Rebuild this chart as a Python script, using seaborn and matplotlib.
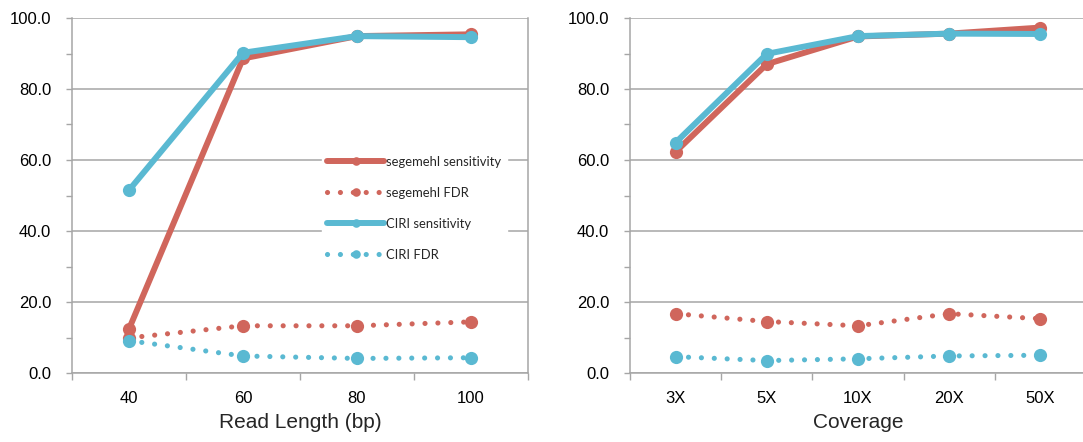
import matplotlib
matplotlib.use("Agg")
import matplotlib.pyplot as plt
from matplotlib.ticker import FormatStrFormatter, FixedLocator
import numpy as np
import seaborn as sns

# ---- data ----
read_lengths = ["40", "60", "80", "100"]
rl_segemehl_sens = [12.4, 88.6, 94.9, 95.4]
rl_segemehl_fdr = [9.9, 13.3, 13.3, 14.4]
rl_ciri_sens = [51.5, 90.2, 94.9, 94.6]
rl_ciri_fdr = [9.1, 4.8, 4.1, 4.3]

coverages = ["3X", "5X", "10X", "20X", "50X"]
cv_segemehl_sens = [62.3, 87.0, 94.8, 95.6, 97.3]
cv_segemehl_fdr = [16.7, 14.5, 13.3, 16.7, 15.3]
cv_ciri_sens = [64.9, 89.9, 94.9, 95.6, 95.5]
cv_ciri_fdr = [4.6, 3.5, 4.0, 4.8, 5.0]

series_names = ["segemehl sensitivity", "segemehl FDR", "CIRI sensitivity", "CIRI FDR"]
y_ticks = [0, 20, 40, 60, 80, 100]

RED = "#D0665C"
BLUE = "#5AB9D2"
GRID = "#A6A6A6"

sns.set_theme(style="white")
plt.rcParams["font.family"] = ["Liberation Sans", "DejaVu Sans"]

W, H = 1083, 442
fig = plt.figure(figsize=(W / 100, H / 100), dpi=100)
ax1 = fig.add_axes([72 / W, (H - 373) / H, 456 / W, 355 / H])
ax2 = fig.add_axes([630 / W, (H - 373) / H, 456 / W, 355 / H])

DOT = (0, (0.01, 2.5))


def draw(ax, cats, seg_s, seg_f, ciri_s, ciri_f, xlabel):
    x = np.arange(len(cats))
    specs = [
        (seg_s, RED, "-", 4.3),
        (seg_f, RED, DOT, 3.7),
        (ciri_s, BLUE, "-", 4.3),
        (ciri_f, BLUE, DOT, 3.7),
    ]
    for (vals, col, ls, lw), name in zip(specs, series_names):
        sns.lineplot(x=x, y=vals, ax=ax, color=col, linestyle=ls, linewidth=lw,
                     marker="o", markersize=9.5, markeredgewidth=0,
                     dash_capstyle="round", solid_capstyle="round",
                     sort=False, label=name, legend=False, zorder=3)
    ax.set_xlim(-0.5, len(cats) - 0.5)
    ax.set_ylim(0, 100)
    ax.set_xticks(x)
    ax.set_xticklabels(cats)
    ax.xaxis.set_minor_locator(FixedLocator(np.arange(len(cats) + 1) - 0.5))
    ax.set_yticks(y_ticks)
    ax.yaxis.set_major_formatter(FormatStrFormatter("%.1f"))
    ax.yaxis.set_minor_locator(FixedLocator([10, 30, 50, 70, 90]))
    ax.tick_params(axis="x", which="major", length=0, pad=13, labelsize=12, colors="black")
    ax.tick_params(axis="x", which="minor", bottom=True, length=5, width=1, color=GRID)
    ax.tick_params(axis="y", which="major", left=True, length=4, width=1, color=GRID,
                   pad=11, labelsize=12, labelcolor="black")
    ax.tick_params(axis="y", which="minor", left=True, length=4, width=1, color=GRID)
    ax.yaxis.grid(True, which="major", color=GRID, linewidth=1.1, zorder=0)
    ax.xaxis.grid(False)
    ax.set_axisbelow(True)
    for s in ["left", "bottom", "right"]:
        ax.spines[s].set_color(GRID)
        ax.spines[s].set_linewidth(1.1)
    ax.spines["top"].set_visible(False)
    ax.set_xlabel(xlabel, fontsize=15, labelpad=5)
    ax.set_ylabel("")


draw(ax1, read_lengths, rl_segemehl_sens, rl_segemehl_fdr, rl_ciri_sens, rl_ciri_fdr,
     "Read Length (bp)")
draw(ax2, coverages, cv_segemehl_sens, cv_segemehl_fdr, cv_ciri_sens, cv_ciri_fdr,
     "Coverage")

handles, labels = ax1.get_legend_handles_labels()
leg = ax1.legend(handles, labels, loc="upper left", bbox_to_anchor=(0.533, 0.645),
                 frameon=True, framealpha=1, facecolor="white", edgecolor="white",
                 fancybox=False, handlelength=4.4, handletextpad=0.15,
                 labelspacing=1.45, borderpad=0.4, markerscale=0.65,
                 prop={"family": ["Lato", "DejaVu Sans"], "size": 9.4})
leg.set_zorder(5)

fig.savefig("out.png", dpi=100)
